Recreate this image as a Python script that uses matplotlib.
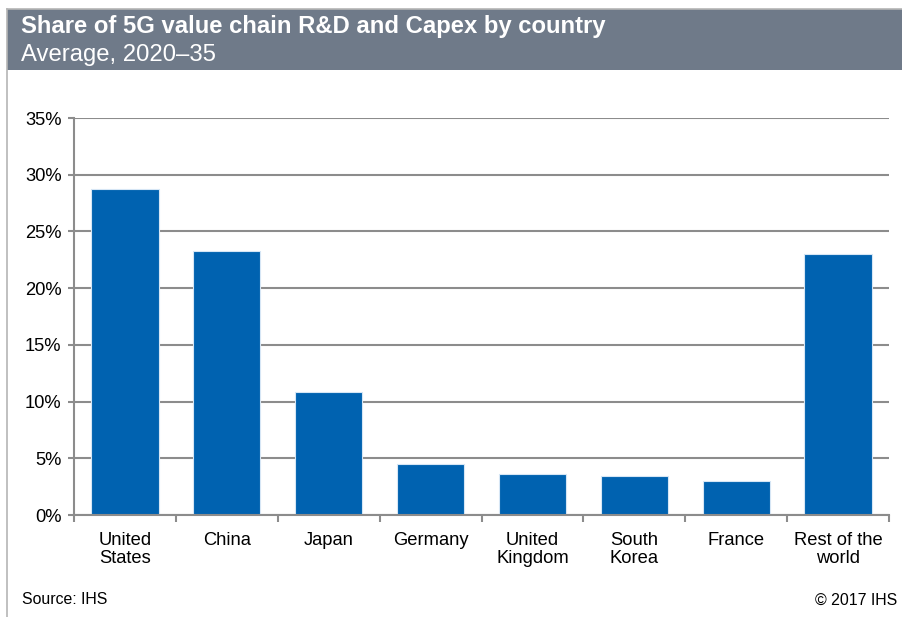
import matplotlib.pyplot as plt
from matplotlib.patches import Rectangle
from matplotlib.lines import Line2D
import numpy as np

plt.rcParams['font.family'] = ['Liberation Sans', 'DejaVu Sans']

# Dados
paises = ["United\nStates", "China", "Japan", "Germany", "United\nKingdom",
          "South\nKorea", "France", "Rest of the\nworld"]
share = [28.7, 23.3, 10.8, 4.5, 3.6, 3.4, 3.0, 23.0]
yticks = [0, 5, 10, 15, 20, 25, 30, 35]

titulo = "Share of 5G value chain R&D and Capex by country"
subtitulo = "Average, 2020\u201335"
fonte = "Source: IHS"
copyright_txt = "\u00a9 2017 IHS"

W, H = 902, 617
fig = plt.figure(figsize=(W / 100, H / 100), dpi=100)

# banner do titulo
fig.patches.append(Rectangle((7 / W, 1 - 70 / H), 1, 61 / H, transform=fig.transFigure,
                             facecolor='#6f7a89', edgecolor='none', zorder=0))
fig.lines.append(Line2D([7 / W, 1], [1 - 8.5 / H] * 2, transform=fig.transFigure,
                        color='#b5b5b5', lw=1.2))
fig.lines.append(Line2D([7 / W] * 2, [0, 1 - 8.5 / H], transform=fig.transFigure,
                        color='#b5b5b5', lw=1.2))
fig.text(21 / W, 1 - 27 / H, titulo, color='white', fontsize=17.2, fontweight='bold', va='center')
fig.text(21 / W, 1 - 55 / H, subtitulo, color='white', fontsize=17.2, va='center')

ax = fig.add_axes([74 / W, 1 - 515 / H, (889 - 74) / W, (515 - 118) / H])
x = np.arange(len(paises))
ax.bar(x, share, width=0.66, color='#0062b0', edgecolor='#d6e6f5', linewidth=0.8, zorder=3)

ax.set_xlim(-0.5, len(paises) - 0.5)
ax.set_ylim(0, 35)
ax.set_yticks(yticks)
ax.set_yticklabels([f"{v}%" for v in yticks], fontsize=13.2)
ax.yaxis.grid(True, color='#8c8c8c', lw=1.5, zorder=0)
ax.tick_params(axis='y', length=4, width=1.5, color='#8c8c8c', pad=5)

# ticks do eixo x nas fronteiras das categorias
ax.set_xticks(np.arange(len(paises) + 1) - 0.5)
ax.set_xticklabels([])
ax.set_xticks(x, minor=True)
ax.set_xticklabels(paises, minor=True, fontsize=13.2, linespacing=1.1)
ax.tick_params(axis='x', which='major', length=5, width=1.5, color='#8c8c8c')
ax.tick_params(axis='x', which='minor', length=0, pad=12)

for s in ['top', 'right']:
    ax.spines[s].set_visible(False)
for s in ['left', 'bottom']:
    ax.spines[s].set_color('#8c8c8c')
    ax.spines[s].set_linewidth(1.5)
    ax.spines[s].set_zorder(4)

fig.text(22 / W, 1 - 600 / H, fonte, fontsize=11.4, va='center')
fig.text(897 / W, 1 - 600 / H, copyright_txt, fontsize=11.4, va='center', ha='right')

fig.savefig("out.png", dpi=100)
